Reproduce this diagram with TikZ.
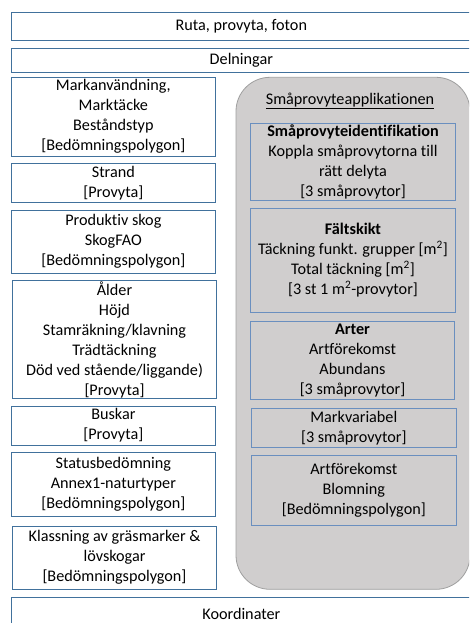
\documentclass[tikz,border=0pt]{standalone}
\usepackage{fontspec}
\setmainfont{Carlito}[Ligatures=NoCommon]
\definecolor{boxblue}{HTML}{41719C}
\definecolor{innerblue}{HTML}{6A8FBF}
\definecolor{appgray}{HTML}{D0CECE}
\newcommand{\boxfont}{\fontsize{16.2}{20}\selectfont}
\tikzset{
  box/.style={draw=boxblue, fill=white, line width=0.8pt, align=center,
    inner sep=0pt, font=\boxfont},
  leftbox/.style={box, minimum width=203.3pt},
  widebox/.style={box, minimum width=459.3pt},
  inbox/.style={box, draw=innerblue, fill=appgray, minimum width=204.5pt},
  appbox/.style={draw=gray!75, fill=appgray, line width=0.8pt,
    rounded corners=34pt, inner sep=0pt},
}

\begin{document}
\begin{tikzpicture}[x=1pt, y=-1pt]
    \useasboundingbox (0,0) rectangle (469,623);
    \clip (0,0) rectangle (469,623);

    \node[widebox, minimum height=27.7pt] (ruta) at (241.35, 26.15) {Ruta, provyta, foton};
    \node[widebox, minimum height=24pt] (delning) at (241.35, 60.7) {Delningar};

    \node[leftbox, minimum height=78.6pt] (markan) at (113.35, 116.7)
        {Markanvändning,\\Marktäcke\\Beståndstyp\\{[}Bedömningspolygon{]}};
    \node[leftbox, minimum height=39pt] (strand) at (113.35, 182.8)
        {Strand\\{[}Provyta{]}};
    \node[leftbox, minimum height=62.6pt] (produktiv) at (113.35, 241.6)
        {Produktiv skog\\SkogFAO\\{[}Bedömningspolygon{]}};
    \node[leftbox, minimum width=204.4pt, minimum height=117.6pt] (alder) at (114.5, 339.5)
        {Ålder\\Höjd\\Stamräkning/klavning\\Trädtäckning\\Död ved stående/liggande)\\{[}Provyta{]}};
    \node[leftbox, minimum height=39pt] (buskar) at (113.35, 425.5)
        {Buskar\\{[}Provyta{]}};
    \node[leftbox, minimum height=63.3pt] (status) at (113.35, 484.35)
        {Statusbedömning\\Annex1-naturtyper\\{[}Bedömningspolygon{]}};
    \node[leftbox, minimum width=204.4pt, minimum height=63pt] (klass) at (114.5, 557.5)
        {Klassning av gräsmarker \&\\lövskogar\\{[}Bedömningspolygon{]}};

    \node[appbox, minimum width=234pt, minimum height=512pt] (app) at (353, 333.3) {};
    \node[font=\boxfont] (apptitle) at (350, 101) {\underline{Småprovyteapplikationen}};

    \node[inbox, minimum height=76.7pt] (ident) at (353, 161.65)
        {\textbf{Småprovyteidentifikation}\\Koppla småprovytorna till\\rätt delyta\\{[}3 småprovytor{]}};
    \node[inbox, minimum height=104pt] (falt) at (353, 260.3)
        {\textbf{Fältskikt}\\Täckning funkt. grupper {[}m\textsuperscript{2}{]}\\Total täckning {[}m\textsuperscript{2}{]}\\{[}3 st 1 m\textsuperscript{2}-provytor{]}};
    \node[inbox, minimum height=77.6pt] (arter) at (352.5, 360.5)
        {\textbf{Arter}\\Artförekomst\\Abundans\\{[}3 småprovytor{]}};
    \node[inbox, minimum height=39.4pt] (markvar) at (353.8, 428)
        {Markvariabel\\{[}3 småprovytor{]}};
    \node[inbox, minimum height=69.3pt] (blom) at (353.8, 490.35)
        {Artförekomst\\Blomning\\{[}Bedömningspolygon{]}};

    \node[widebox, minimum height=33.3pt] (koord) at (241.35, 614.35) {Koordinater};
\end{tikzpicture}
\end{document}
